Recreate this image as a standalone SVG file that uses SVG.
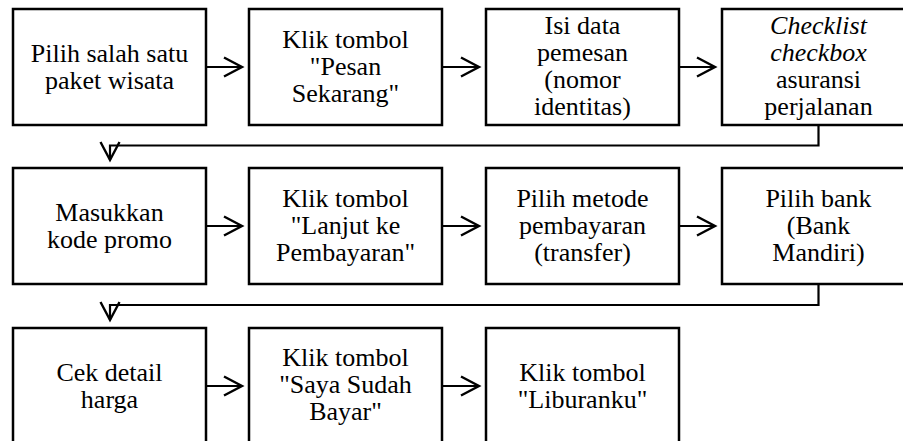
<svg xmlns="http://www.w3.org/2000/svg" width="903" height="441" viewBox="0 0 903 441">
  <defs>
    <style>
      .box { fill: #ffffff; stroke: #000000; stroke-width: 2.5; }
      .lbl { font-size: 26px; fill: #000000; text-anchor: middle; }
      .it { font-style: italic; }
      .conn { fill: none; stroke: #000000; stroke-width: 2.2; }
    </style>
    <marker id="arrow" markerUnits="userSpaceOnUse" markerWidth="24" markerHeight="24" viewBox="-20 -12 24 24" refX="0" refY="0" orient="auto">
      <path d="M -18 -9.5 L 0 0 L -18 9.5" fill="none" stroke="#000000" stroke-width="2.4"/>
    </marker>
  </defs>
  <rect width="903" height="441" fill="#ffffff"/>

  <g id="connectors">
    <line class="conn" x1="206" y1="67" x2="242" y2="67" marker-end="url(#arrow)"/>
    <line class="conn" x1="442" y1="67" x2="479" y2="67" marker-end="url(#arrow)"/>
    <line class="conn" x1="679" y1="67" x2="715" y2="67" marker-end="url(#arrow)"/>
    <polyline class="conn" points="818.5,125 818.5,145.5 110,145.5 110,160" marker-end="url(#arrow)"/>
    <line class="conn" x1="206" y1="226" x2="242" y2="226" marker-end="url(#arrow)"/>
    <line class="conn" x1="442" y1="226" x2="479" y2="226" marker-end="url(#arrow)"/>
    <line class="conn" x1="679" y1="226" x2="715" y2="226" marker-end="url(#arrow)"/>
    <polyline class="conn" points="818.5,284 818.5,305 110,305 110,320" marker-end="url(#arrow)"/>
    <line class="conn" x1="206" y1="386" x2="242" y2="386" marker-end="url(#arrow)"/>
    <line class="conn" x1="442" y1="386" x2="479" y2="386" marker-end="url(#arrow)"/>
  </g>

  <g font-family="'Liberation Serif', 'DejaVu Serif', serif">
  <g id="n1">
    <rect class="box" x="13" y="9" width="193" height="116"/>
    <text class="lbl" x="109.5" y="61.5">Pilih salah satu</text>
    <text class="lbl" x="109.5" y="88.5">paket wisata</text>
  </g>
  <g id="n2">
    <rect class="box" x="249" y="9" width="193" height="116"/>
    <text class="lbl" x="345.5" y="48">Klik tombol</text>
    <text class="lbl" x="345.5" y="75">"Pesan</text>
    <text class="lbl" x="345.5" y="102">Sekarang"</text>
  </g>
  <g id="n3">
    <rect class="box" x="486" y="9" width="193" height="116"/>
    <text class="lbl" x="582.5" y="34">Isi data</text>
    <text class="lbl" x="582.5" y="61">pemesan</text>
    <text class="lbl" x="582.5" y="88">(nomor</text>
    <text class="lbl" x="582.5" y="115">identitas)</text>
  </g>
  <g id="n4">
    <rect class="box" x="722" y="9" width="193" height="116"/>
    <text class="lbl it" x="818.5" y="34">Checklist</text>
    <text class="lbl it" x="818.5" y="61">checkbox</text>
    <text class="lbl" x="818.5" y="88">asuransi</text>
    <text class="lbl" x="818.5" y="115">perjalanan</text>
  </g>

  <g id="n5">
    <rect class="box" x="13" y="168" width="193" height="116"/>
    <text class="lbl" x="109.5" y="221">Masukkan</text>
    <text class="lbl" x="109.5" y="248">kode promo</text>
  </g>
  <g id="n6">
    <rect class="box" x="249" y="168" width="193" height="116"/>
    <text class="lbl" x="345.5" y="207">Klik tombol</text>
    <text class="lbl" x="345.5" y="234">"Lanjut ke</text>
    <text class="lbl" x="345.5" y="261">Pembayaran"</text>
  </g>
  <g id="n7">
    <rect class="box" x="486" y="168" width="193" height="116"/>
    <text class="lbl" x="582.5" y="207">Pilih metode</text>
    <text class="lbl" x="582.5" y="234">pembayaran</text>
    <text class="lbl" x="582.5" y="261">(transfer)</text>
  </g>
  <g id="n8">
    <rect class="box" x="722" y="168" width="193" height="116"/>
    <text class="lbl" x="818.5" y="207">Pilih bank</text>
    <text class="lbl" x="818.5" y="234">(Bank</text>
    <text class="lbl" x="818.5" y="261">Mandiri)</text>
  </g>

  <g id="n9">
    <rect class="box" x="13" y="328" width="193" height="116"/>
    <text class="lbl" x="109.5" y="380.5">Cek detail</text>
    <text class="lbl" x="109.5" y="407.5">harga</text>
  </g>
  <g id="n10">
    <rect class="box" x="249" y="328" width="193" height="116"/>
    <text class="lbl" x="345.5" y="366">Klik tombol</text>
    <text class="lbl" x="345.5" y="393">"Saya Sudah</text>
    <text class="lbl" x="345.5" y="420">Bayar"</text>
  </g>
  <g id="n11">
    <rect class="box" x="486" y="328" width="193" height="116"/>
    <text class="lbl" x="582.5" y="380.5">Klik tombol</text>
    <text class="lbl" x="582.5" y="407.5">"Liburanku"</text>
  </g>
  </g>
</svg>
